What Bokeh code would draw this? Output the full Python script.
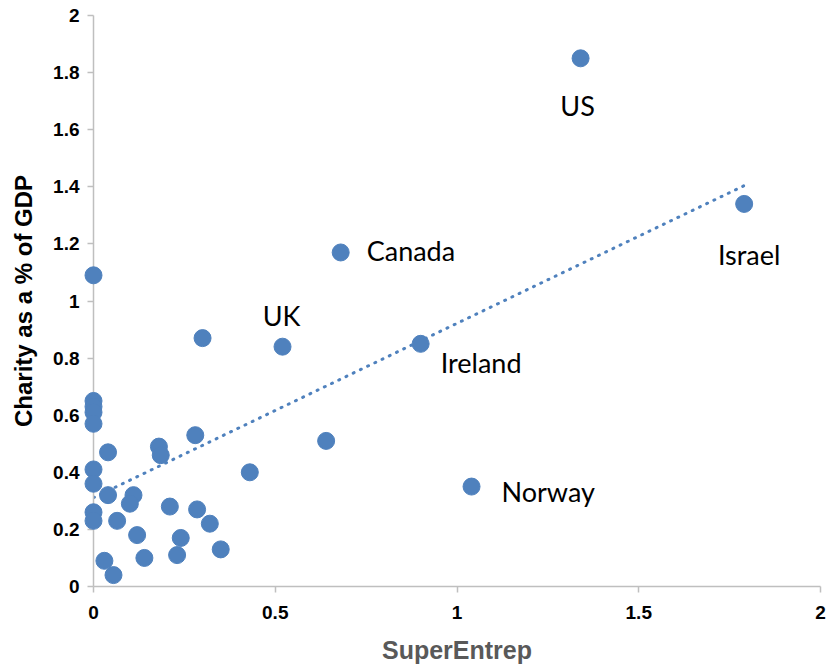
import numpy as np
from bokeh.plotting import figure
from bokeh.models import ColumnDataSource, Range1d, FixedTicker
from bokeh.core.properties import value
from bokeh.embed import file_html
from bokeh.resources import INLINE

# ---- data ----
country = ["US", "Israel", "Canada", "Ireland", "UK", "", "Norway", "", "", "",
           "", "", "", "", "", "", "", "", "", "",
           "", "", "", "", "", "", "", "", "", "",
           "", "", "", "", "", ""]
super_entrep = [1.34, 1.79, 0.68, 0.90, 0.52, 0.30, 1.04, 0.64, 0.43, 0.00,
                0.28, 0.18, 0.185, 0.04, 0.00, 0.00, 0.00, 0.00, 0.00, 0.00,
                0.04, 0.11, 0.10, 0.00, 0.00, 0.065, 0.21, 0.285, 0.32, 0.12,
                0.24, 0.35, 0.03, 0.14, 0.23, 0.055]
charity_gdp = [1.85, 1.34, 1.17, 0.85, 0.84, 0.87, 0.35, 0.51, 0.40, 1.09,
               0.53, 0.49, 0.46, 0.47, 0.65, 0.63, 0.61, 0.57, 0.41, 0.36,
               0.32, 0.32, 0.29, 0.26, 0.23, 0.23, 0.28, 0.27, 0.22, 0.18,
               0.17, 0.13, 0.09, 0.10, 0.11, 0.04]

x_ticks = [0, 0.5, 1, 1.5, 2]
x_tick_labels = ["0", "0.5", "1", "1.5", "2"]
y_ticks = [0, 0.2, 0.4, 0.6, 0.8, 1, 1.2, 1.4, 1.6, 1.8, 2]
y_tick_labels = ["0", "0.2", "0.4", "0.6", "0.8", "1", "1.2", "1.4", "1.6", "1.8", "2"]

# label placement (screen pixel offsets from each labelled point)
label_style = {
    "US":      dict(dx=-3,  dy=47, align="center"),
    "Israel":  dict(dx=5,   dy=51, align="center"),
    "Canada":  dict(dx=26,  dy=-2, align="left"),
    "Ireland": dict(dx=20,  dy=19, align="left"),
    "UK":      dict(dx=-1,  dy=-31, align="center"),
    "Norway":  dict(dx=30,  dy=5,  align="left"),
}

BLUE = "#4F81BD"

p = figure(width=827, height=668, output_backend="svg", toolbar_location=None,
           x_range=Range1d(0, 2), y_range=Range1d(0, 2),
           min_border_left=93, min_border_right=7, min_border_top=15, min_border_bottom=82)
p.outline_line_color = None
p.xgrid.visible = False
p.ygrid.visible = False
p.background_fill_color = "white"
p.border_fill_color = "white"

# trend line (least squares fit of the data)
xs = np.array(super_entrep)
ys = np.array(charity_gdp)
slope, intercept = np.polyfit(xs, ys, 1)
tx = np.array([0.0, xs.max()])
p.line(tx, intercept + slope * tx, line_color=BLUE, line_width=3,
       line_dash="1 7", line_cap="round")

src = ColumnDataSource(dict(x=super_entrep, y=charity_gdp, name=country))
r = p.scatter("x", "y", source=src, size=17, fill_color=BLUE, line_color=BLUE)
r.level = "annotation"

for name, st in label_style.items():
    i = country.index(name)
    p.text([super_entrep[i]], [charity_gdp[i]], text=[name],
           x_offset=st["dx"], y_offset=st["dy"], text_align=st["align"],
           text_baseline="middle", text_font=value("Lato"), text_font_size="27px",
           text_color="black")

for ax, ticks, labels in ((p.xaxis[0], x_ticks, x_tick_labels), (p.yaxis[0], y_ticks, y_tick_labels)):
    ax.ticker = FixedTicker(ticks=ticks)
    ax.major_label_overrides = dict(zip(ticks, labels))
    ax.axis_line_color = "#BFBFBF"
    ax.axis_line_width = 1.5
    ax.major_tick_line_color = "#BFBFBF"
    ax.major_tick_line_width = 1.5
    ax.major_tick_out = 6
    ax.major_tick_in = 0
    ax.minor_tick_line_color = None
    ax.major_label_text_font = "Liberation Sans"
    ax.major_label_text_font_style = "bold"
    ax.major_label_text_font_size = "19px"
    ax.major_label_text_color = "black"
    ax.axis_label_text_font = "Liberation Sans"
    ax.axis_label_text_font_style = "bold"

p.xaxis.axis_label = "SuperEntrep"
p.xaxis.axis_label_text_color = "#595959"
p.xaxis.axis_label_text_font_size = "25px"
p.xaxis.major_label_standoff = 13
p.xaxis.axis_label_standoff = 14
p.yaxis.axis_label = "Charity as a % of GDP"
p.yaxis.axis_label_text_color = "black"
p.yaxis.axis_label_text_font_size = "24px"
p.yaxis.major_label_standoff = 8
p.yaxis.axis_label_standoff = 13

open("out.html", "w").write(file_html(p, INLINE))
